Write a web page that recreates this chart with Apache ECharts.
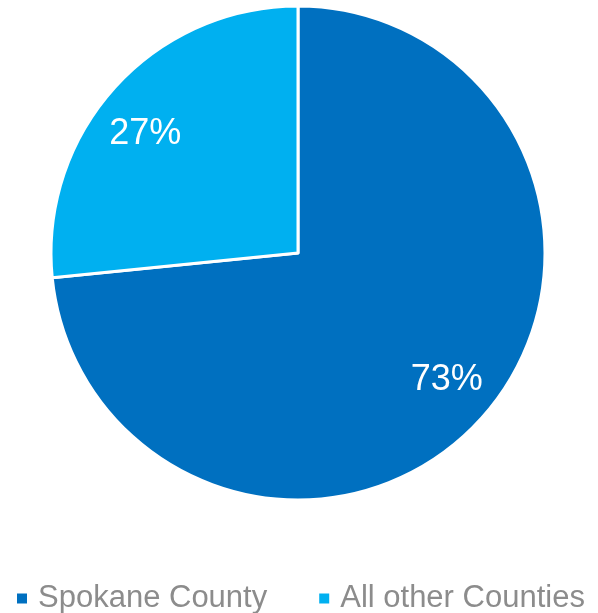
<!DOCTYPE html>
<html>
<head>
<meta charset="utf-8">
<script src="https://cdn.jsdelivr.net/npm/echarts@6/dist/echarts.min.js"></script>
<style>
html,body{margin:0;padding:0;background:#fff;}
#chart{width:598px;height:613px;}
</style>
</head>
<body>
<div id="chart"></div>
<script>
var categories = ['Spokane County', 'All other Counties'];
var values = [73.4, 26.6];
var colors = ['#0070C0', '#00B0F0'];

var labelOffsets = [[0, -7], [-4, 16]];

var pieData = categories.map(function (c, i) { return { name: c, value: values[i] }; });
var labelData = categories.map(function (c, i) {
  return { name: c, value: values[i], label: { offset: labelOffsets[i] } };
});

var chart = echarts.init(document.getElementById('chart'), null, { renderer: 'canvas' });
chart.setOption({
  animation: false,
  color: colors,
  legend: {
    data: categories,
    left: 10,
    top: 578,
    itemWidth: 12,
    itemHeight: 12,
    itemGap: 50,
    icon: 'rect',
    textStyle: { fontFamily: 'Liberation Sans, Arial, sans-serif', fontSize: 31, color: '#8C8C8C', padding: [0, 0, 0, 5] }
  },
  series: [
    {
      type: 'pie',
      center: [298, 253],
      radius: [0, 247],
      startAngle: 90,
      clockwise: true,
      data: pieData,
      label: { show: false },
      labelLine: { show: false },
      itemStyle: { borderColor: '#fff', borderWidth: 3 },
      emphasis: { disabled: true }
    },
    {
      type: 'pie',
      center: [298, 253],
      radius: [148, 247],
      startAngle: 90,
      clockwise: true,
      silent: true,
      data: labelData,
      itemStyle: { color: 'rgba(0,0,0,0)', borderWidth: 0 },
      label: {
        show: true,
        position: 'inside',
        formatter: function (p) { return Math.round(p.value) + '%'; },
        color: '#fff',
        fontFamily: 'Liberation Sans, Arial, sans-serif',
        fontSize: 36
      },
      labelLine: { show: false },
      emphasis: { disabled: true }
    }
  ]
});
</script>
</body>
</html>
